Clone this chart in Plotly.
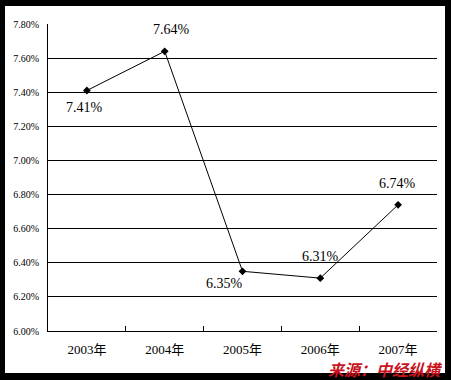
import plotly.graph_objects as go

years = ["2003年", "2004年", "2005年", "2006年", "2007年"]
rates = [7.41, 7.64, 6.35, 6.31, 6.74]
labels = ["7.41%", "7.64%", "6.35%", "6.31%", "6.74%"]
label_shift_x = [-2, 7, -18, 0, -1]
label_shift_y = [-17, 22, -12, 22, 21]
yticks = [6.0, 6.2, 6.4, 6.6, 6.8, 7.0, 7.2, 7.4, 7.6, 7.8]

W, H = 451, 380
L, R, T, B = 48, 437, 24, 331
pw, ph = R - L, B - T

def px(x):
    return (x - L) / pw

def py(y):
    return (B - y) / ph

fig = go.Figure()
fig.add_trace(go.Scatter(
    x=years, y=rates, mode="lines+markers",
    line=dict(color="black", width=1),
    marker=dict(symbol="diamond", size=6, color="black"),
    hoverinfo="skip", showlegend=False,
))

annotations = []
for xv, yv, t, dx, dy in zip(years, rates, labels, label_shift_x, label_shift_y):
    annotations.append(dict(
        x=xv, y=yv, xref="x", yref="y", text=t, showarrow=False,
        xshift=dx, yshift=dy,
        font=dict(family="Liberation Serif", size=14, color="black"),
    ))

annotations.append(dict(
    x=px(444), y=py(368.5), xref="paper", yref="paper",
    xanchor="right", yanchor="middle", showarrow=False, borderpad=0,
    text="<b><i>来源：中经纵横</i></b>",
    font=dict(family="Noto Sans CJK SC", size=16, color="#c8141e"),
))

shapes = [dict(
    type="rect", xref="paper", yref="paper", layer="below",
    x0=px(5), x1=px(445), y0=py(373), y1=py(6),
    fillcolor="white", line=dict(width=0),
)]

fig.update_layout(
    width=W, height=H,
    margin=dict(l=L, r=W - R, t=T, b=H - B, pad=0),
    paper_bgcolor="black",
    plot_bgcolor="white",
    shapes=shapes,
    annotations=annotations,
    xaxis=dict(
        type="category", tickson="boundaries", ticks="inside", ticklen=5,
        tickcolor="black", tickwidth=1,
        showline=True, linecolor="black", linewidth=1,
        showgrid=False, zeroline=False,
        tickfont=dict(family="Liberation Serif, Noto Sans CJK SC", size=13, color="black"),
        ticklabelstandoff=6,
        range=[-0.5, 4.5],
    ),
    yaxis=dict(
        range=[6.0, 7.8], tickvals=yticks,
        ticktext=[f"{v:.2f}%" for v in yticks],
        showline=True, linecolor="black", linewidth=1,
        showgrid=True, gridcolor="black", gridwidth=1,
        zeroline=False, ticks="",
        tickfont=dict(family="Liberation Serif", size=10, color="black"),
        ticklabelstandoff=6,
    ),
)

fig.write_html("out.html")
